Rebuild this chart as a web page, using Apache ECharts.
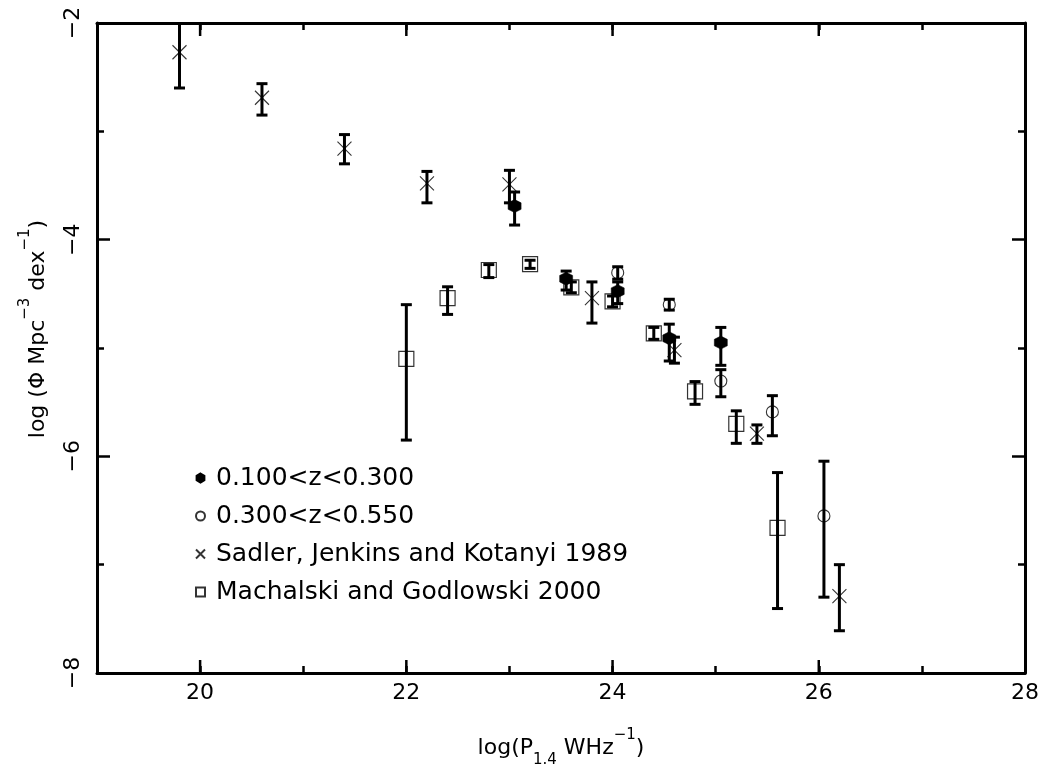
<!DOCTYPE html>
<html>
<head>
<meta charset="utf-8">
<script src="https://cdn.jsdelivr.net/npm/echarts@6/dist/echarts.min.js"></script>
<style>html,body{margin:0;padding:0;background:#fff}#c{width:1047px;height:779px}</style>
</head>
<body>
<div id="c"></div>
<script>
// ---- data ----
const lowZX  = [23.05, 23.55, 24.05, 24.55, 25.05];
const lowZY  = [-3.69, -4.36, -4.475, -4.91, -4.95];
const lowZLo = [-3.865, -4.465, -4.59, -5.12, -5.16];
const lowZHi = [-3.56, -4.29, -4.39, -4.78, -4.81];

const highZX  = [24.05, 24.55, 25.05, 25.55, 26.05];
const highZY  = [-4.305, -4.60, -5.305, -5.59, -6.55];
const highZLo = [-4.365, -4.65, -5.45, -5.81, -7.30];
const highZHi = [-4.25, -4.55, -5.20, -5.44, -6.045];

const sadlerX  = [19.8, 20.6, 21.4, 22.2, 23.0, 23.8, 24.6, 25.4, 26.2];
const sadlerY  = [-2.27, -2.69, -3.16, -3.48, -3.49, -4.54, -5.02, -5.79, -7.29];
const sadlerLo = [-2.60, -2.85, -3.30, -3.66, -3.66, -4.77, -5.14, -5.88, -7.61];
const sadlerHi = [-1.90, -2.56, -3.03, -3.37, -3.36, -4.39, -4.90, -5.71, -7.00];

const machX  = [22.0, 22.4, 22.8, 23.2, 23.6, 24.0, 24.4, 24.8, 25.2, 25.6];
const machY  = [-5.10, -4.54, -4.28, -4.225, -4.44, -4.57, -4.865, -5.40, -5.70, -6.66];
const machLo = [-5.85, -4.69, -4.35, -4.265, -4.49, -4.62, -4.92, -5.52, -5.88, -7.405];
const machHi = [-4.60, -4.435, -4.23, -4.19, -4.39, -4.52, -4.81, -5.31, -5.58, -6.15];

const seriesNames = ['0.100<z<0.300', '0.300<z<0.550', 'Sadler, Jenkins and Kotanyi 1989', 'Machalski and Godlowski 2000'];
const majorTickX = [20, 22, 24, 26];
const xMin = 19, xMax = 28, yMin = -8, yMax = -2;

// ---- helpers ----
const pts = (xs, ys) => xs.map((x, i) => [x, ys[i]]);
const errs = (xs, lo, hi) => xs.map((x, i) => [x, lo[i], hi[i]]);
const FONT = 'DejaVu Sans';

function errRender(params, api) {
  const x = api.value(0);
  const a = api.coord([x, api.value(2)]);
  const b = api.coord([x, api.value(1)]);
  const st = { stroke: '#000', lineWidth: 3 };
  return {
    type: 'group',
    children: [
      { type: 'line', shape: { x1: a[0], y1: a[1], x2: b[0], y2: b[1] }, style: st },
      { type: 'line', shape: { x1: a[0] - 5.5, y1: a[1], x2: a[0] + 5.5, y2: a[1] }, style: st },
      { type: 'line', shape: { x1: b[0] - 5.5, y1: b[1], x2: b[0] + 5.5, y2: b[1] }, style: st }
    ]
  };
}
function errSeries(data) {
  return { type: 'custom', renderItem: errRender, data: data, clip: true, encode: { x: 0, y: [1, 2] }, silent: true, z: 2 };
}
function tickRender(params, api) {
  const x = api.value(0);
  const b = api.coord([x, yMin]);
  const t = api.coord([x, yMax]);
  const st = { stroke: '#000', lineWidth: 2.5 };
  return {
    type: 'group',
    children: [
      { type: 'line', shape: { x1: b[0], y1: b[1], x2: b[0], y2: b[1] - 13 }, style: st },
      { type: 'line', shape: { x1: t[0], y1: t[1], x2: t[0], y2: t[1] + 13 }, style: st }
    ]
  };
}

const hexPath = 'path://M5,0L9.33,2.5L9.33,7.5L5,10L0.67,7.5L0.67,2.5Z';
const crossPath = 'path://M0,0L10,10M10,0L0,10';

const axisCommon = {
  min: xMin, max: xMax, interval: 1,
  axisLine: { show: true, onZero: false, lineStyle: { color: '#000', width: 3 } },
  axisTick: { show: true, inside: true, length: 7, lineStyle: { color: '#000', width: 2.5 } },
  splitLine: { show: false }
};

const option = {
  backgroundColor: '#fff',
  animation: false,
  grid: { left: 97, top: 23, width: 928, height: 650 },
  xAxis: [
    Object.assign({}, axisCommon, {
      type: 'value', position: 'bottom',
      axisLabel: { show: true, color: '#000', fontFamily: FONT, fontSize: 22, margin: 9,
        formatter: v => (v % 2 === 0 ? String(v) : '') },
      name: 'log(P{sub|1.4} WHz{sup|\u22121})',
      nameLocation: 'middle', nameGap: 55,
      nameTextStyle: { color: '#000', fontFamily: FONT, fontSize: 22, lineHeight: 40,
        rich: {
          sub: { fontFamily: FONT, fontSize: 15, lineHeight: 16, verticalAlign: 'bottom', color: '#000' },
          sup: { fontFamily: FONT, fontSize: 15, lineHeight: 16, verticalAlign: 'top', color: '#000' }
        } }
    }),
    Object.assign({}, axisCommon, {
      type: 'value', position: 'top', axisLabel: { show: false }
    })
  ],
  yAxis: [
    {
      type: 'value', position: 'left', min: yMin, max: yMax, interval: 2,
      axisLine: { show: true, onZero: false, lineStyle: { color: '#000', width: 3 } },
      axisTick: { show: true, inside: true, length: 13, lineStyle: { color: '#000', width: 2.5 } },
      minorTick: { show: true, splitNumber: 2, length: 7, lineStyle: { color: '#000', width: 2.5 } },
      splitLine: { show: false },
      axisLabel: { show: true, rotate: 90, color: '#000', fontFamily: FONT, fontSize: 22, margin: 13,
        formatter: v => String(v).replace('-', '\u2212') }
    },
    {
      type: 'value', position: 'right', min: yMin, max: yMax, interval: 2,
      axisLine: { show: true, onZero: false, lineStyle: { color: '#000', width: 3 } },
      axisTick: { show: true, inside: true, length: 13, lineStyle: { color: '#000', width: 2.5 } },
      minorTick: { show: true, splitNumber: 2, length: 7, lineStyle: { color: '#000', width: 2.5 } },
      splitLine: { show: false },
      axisLabel: { show: false }
    }
  ],
  legend: {
    orient: 'vertical', left: 195, top: 465, padding: 0,
    itemWidth: 9, itemHeight: 9, itemGap: 12,
    data: seriesNames,
    textStyle: { color: '#000', fontFamily: FONT, fontSize: 25, lineHeight: 26, padding: [0, 0, 0, 6] },
    selectedMode: false
  },
  graphic: [
    {
      type: 'text', x: 38, y: 329, rotation: Math.PI / 2,
      style: {
        text: 'log (\u03A6 Mpc{sup|\u22123} dex{sup|\u22121})',
        fill: '#000', fontFamily: FONT, fontSize: 22,
        align: 'center', verticalAlign: 'middle', lineHeight: 40,
        rich: {
          sup: { fontFamily: FONT, fontSize: 15, lineHeight: 16, verticalAlign: 'top', fill: '#000' }
        }
      }
    }
  ],
  series: [
    { type: 'custom', renderItem: tickRender, data: majorTickX.map(v => [v, yMin]), encode: { x: 0, y: 1 }, clip: false, silent: true },
    errSeries(errs(sadlerX, sadlerLo, sadlerHi)),
    errSeries(errs(machX, machLo, machHi)),
    errSeries(errs(lowZX, lowZLo, lowZHi)),
    errSeries(errs(highZX, highZLo, highZHi)),
    {
      name: seriesNames[0], type: 'scatter', symbol: hexPath, symbolSize: 13,
      data: pts(lowZX, lowZY), itemStyle: { color: '#000', borderColor: '#000', borderWidth: 0.5, opacity: 1 }, z: 3
    },
    {
      name: seriesNames[1], type: 'scatter', symbol: 'circle', symbolSize: 12,
      data: pts(highZX, highZY), itemStyle: { color: 'rgba(0,0,0,0)', borderColor: '#000', borderWidth: 1.1 }, z: 3
    },
    {
      name: seriesNames[2], type: 'scatter', symbol: crossPath, symbolSize: 14,
      data: pts(sadlerX, sadlerY), itemStyle: { color: 'rgba(0,0,0,0)', borderColor: '#000', borderWidth: 1.1 }, z: 3
    },
    {
      name: seriesNames[3], type: 'scatter', symbol: 'rect', symbolSize: 15,
      data: pts(machX, machY), itemStyle: { color: 'rgba(0,0,0,0)', borderColor: '#000', borderWidth: 1.2 }, z: 3
    }
  ]
};

const chart = echarts.init(document.getElementById('c'), null, { renderer: 'canvas' });
chart.setOption(option);
</script>
</body>
</html>
